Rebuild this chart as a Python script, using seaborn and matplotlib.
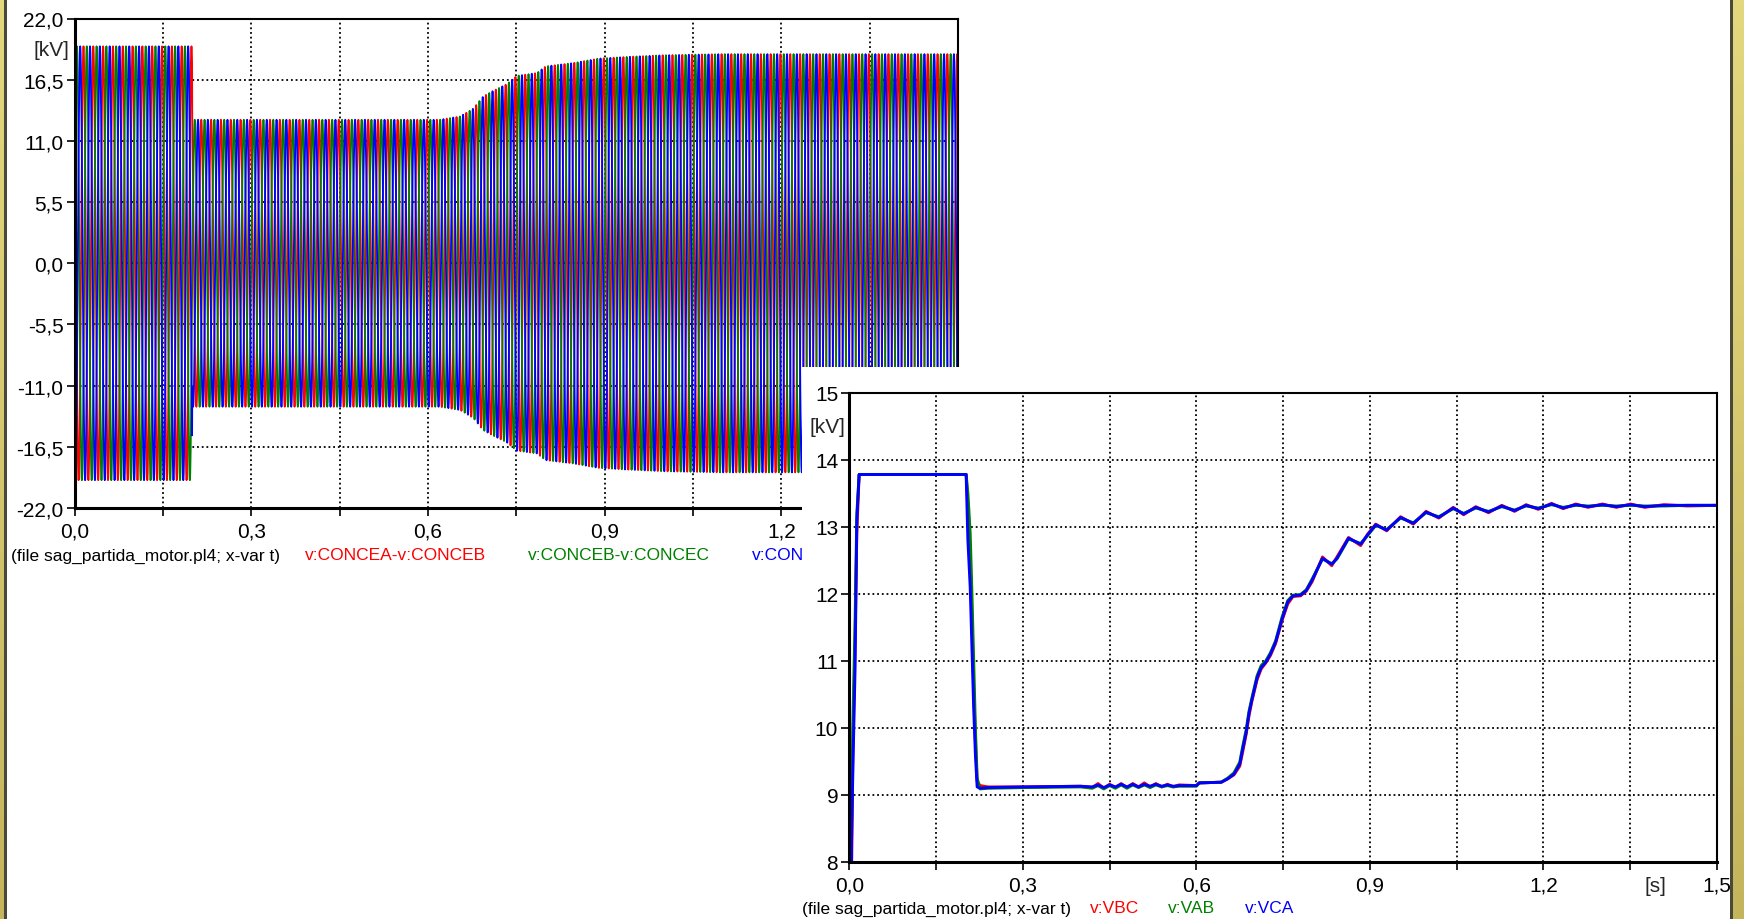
import numpy as np
import pandas as pd
import matplotlib
matplotlib.use("Agg")
import matplotlib.pyplot as plt
import seaborn as sns
from matplotlib.patches import Rectangle
from matplotlib.colors import LinearSegmentedColormap

# ---- data ---------------------------------------------------------------
# top chart: line-to-line voltages, 60 Hz carrier, peak envelope in kV
TOP_NAMES = ["v:CONCEA-v:CONCEB", "v:CONCEB-v:CONCEC", "v:CONCEC-v:CONCEA"]
TOP_PHASE_DEG = [120.0, 0.0, 240.0]
FREQ_HZ = 60.0
ENV_T = [0.0, 0.2, 0.2, 0.62, 0.655, 0.677, 0.694, 0.711, 0.734, 0.751,
         0.785, 0.80, 0.847, 0.89, 0.938, 1.0, 1.1, 1.5]
ENV_KV = [19.5, 19.5, 12.9, 12.9, 13.2, 13.9, 15.0, 15.5, 16.1, 16.85,
          17.1, 17.7, 18.0, 18.4, 18.55, 18.7, 18.8, 18.8]

# bottom chart: RMS values in kV
RMS_T = [0.000, 0.004, 0.006, 0.010, 0.013, 0.017, 0.202, 0.205, 0.209, 0.212,
         0.215, 0.218, 0.221, 0.226, 0.240, 0.300, 0.400, 0.420, 0.430, 0.440,
         0.450, 0.460, 0.470, 0.480, 0.490, 0.500, 0.510, 0.520, 0.530, 0.540,
         0.550, 0.560, 0.570, 0.600, 0.605, 0.643, 0.654, 0.665, 0.675, 0.680,
         0.686, 0.691, 0.696, 0.705, 0.712, 0.720, 0.728, 0.737, 0.748, 0.758,
         0.767, 0.780, 0.790, 0.800, 0.818, 0.834, 0.843, 0.863, 0.884, 0.896,
         0.910, 0.929, 0.953, 0.975, 0.997, 1.019, 1.044, 1.062, 1.083, 1.105,
         1.128, 1.150, 1.170, 1.191, 1.214, 1.234, 1.256, 1.277, 1.302, 1.326,
         1.351, 1.375, 1.408, 1.449, 1.500]
VCA = [0.0, 8.3, 9.3, 10.9, 13.1, 13.78, 13.78, 12.8, 12.1, 11.2,
       10.3, 9.6, 9.12, 9.10, 9.11, 9.12, 9.13, 9.12, 9.15, 9.11,
       9.15, 9.12, 9.16, 9.12, 9.16, 9.12, 9.16, 9.13, 9.16, 9.13,
       9.15, 9.13, 9.14, 9.14, 9.18, 9.19, 9.24, 9.31, 9.46, 9.68,
       9.93, 10.22, 10.42, 10.75, 10.9, 10.98, 11.1, 11.28, 11.62, 11.88,
       11.97, 11.98, 12.05, 12.2, 12.53, 12.44, 12.53, 12.83, 12.74, 12.88,
       13.03, 12.95, 13.14, 13.05, 13.22, 13.14, 13.28, 13.19, 13.29, 13.22,
       13.31, 13.24, 13.32, 13.27, 13.34, 13.28, 13.33, 13.30, 13.33, 13.30,
       13.33, 13.30, 13.32, 13.32, 13.32]
VBC = [0.0, 7.9, 9.6, 11.3, 12.9, 13.78, 13.78, 13.3, 12.6, 11.6,
       10.6, 9.8, 9.20, 9.14, 9.12, 9.12, 9.13, 9.11, 9.17, 9.10,
       9.16, 9.11, 9.17, 9.11, 9.17, 9.12, 9.18, 9.12, 9.17, 9.12,
       9.16, 9.12, 9.15, 9.14, 9.18, 9.19, 9.24, 9.30, 9.43, 9.64,
       9.90, 10.18, 10.40, 10.72, 10.88, 10.97, 11.08, 11.26, 11.60, 11.85,
       11.96, 11.97, 12.04, 12.18, 12.55, 12.42, 12.55, 12.84, 12.72, 12.89,
       13.04, 12.94, 13.15, 13.04, 13.23, 13.13, 13.29, 13.18, 13.30, 13.21,
       13.32, 13.23, 13.33, 13.26, 13.35, 13.27, 13.34, 13.29, 13.34, 13.29,
       13.34, 13.29, 13.33, 13.31, 13.32]
VAB = [0.0, 8.6, 10.0, 11.6, 13.2, 13.78, 13.78, 13.5, 12.9, 12.0,
       11.0, 10.0, 9.25, 9.09, 9.10, 9.11, 9.12, 9.10, 9.14, 9.09,
       9.14, 9.10, 9.15, 9.10, 9.15, 9.11, 9.15, 9.11, 9.15, 9.12,
       9.14, 9.12, 9.13, 9.13, 9.18, 9.19, 9.25, 9.33, 9.49, 9.72,
       9.97, 10.25, 10.45, 10.78, 10.93, 11.00, 11.12, 11.30, 11.65, 11.90,
       11.98, 11.99, 12.06, 12.22, 12.52, 12.45, 12.52, 12.82, 12.75, 12.87,
       13.02, 12.96, 13.13, 13.06, 13.21, 13.15, 13.27, 13.20, 13.28, 13.23,
       13.30, 13.25, 13.31, 13.28, 13.33, 13.29, 13.32, 13.31, 13.32, 13.31,
       13.32, 13.31, 13.31, 13.32, 13.32]
BOTTOM_NAMES = ["v:VBC", "v:VAB", "v:VCA"]

# tick values / labels
X_TICKS = [0.0, 0.15, 0.3, 0.45, 0.6, 0.75, 0.9, 1.05, 1.2, 1.35, 1.5]
X_LABELS = ["0,0", "", "0,3", "", "0,6", "", "0,9", "", "1,2", "", "1,5"]
TOP_Y_TICKS = [-22.0, -16.5, -11.0, -5.5, 0.0, 5.5, 11.0, 16.5, 22.0]
TOP_Y_LABELS = ["-22,0", "-16,5", "-11,0", "-5,5", "0,0", "5,5", "11,0", "16,5", "22,0"]
BOT_Y_TICKS = [8, 9, 10, 11, 12, 13, 14, 15]
BOT_Y_LABELS = ["8", "9", "10", "11", "12", "13", "14", "15"]
FILE_LABEL = "(file sag_partida_motor.pl4; x-var t)"

# ---- style ---------------------------------------------------------------
W, H = 1744, 920
COLORS = ["#ff0000", "#008000", "#0000ff"]
TICK_FS = 15
LEG_FS = 12.5

sns.set_style("white")
plt.rcParams["font.family"] = ["Liberation Sans", "DejaVu Sans"]


def fx(px):
    return px / W


def fy(py):
    return 1 - py / H


def style_axes(ax, yticks, ylabels):
    ax.set_xlim(0, 1.5)
    ax.set_xticks(X_TICKS)
    ax.set_xticklabels(X_LABELS)
    ax.set_yticks(yticks)
    ax.set_yticklabels(ylabels)
    ax.set_xlabel("")
    ax.set_ylabel("")
    ax.grid(True, color="black", linestyle=(0, (1, 1.6)), linewidth=1.3)
    for side in ["left", "bottom"]:
        ax.spines[side].set_linewidth(2.2)
        ax.spines[side].set_color("black")
    for side in ["top", "right"]:
        ax.spines[side].set_linewidth(1.5)
        ax.spines[side].set_color("black")
    ax.tick_params(axis="both", direction="out", length=6, width=1.2,
                   color="black", labelsize=TICK_FS, labelcolor="black",
                   left=True, bottom=True)
    ax.tick_params(axis="x", pad=4)
    ax.tick_params(axis="y", pad=2)
    if ax.get_legend():
        ax.get_legend().remove()


fig = plt.figure(figsize=(W / 100, H / 100), dpi=100, facecolor="white")

# ---- top chart: instantaneous voltages -----------------------------------
ax1 = fig.add_axes([fx(74.5), fy(509), fx(958 - 74.5), (509 - 19.5) / H])
ax1.set_zorder(0)
t = np.arange(0.0, 1.5 + 1e-9, 1.0 / (FREQ_HZ * 48))
env = np.interp(t, ENV_T, ENV_KV)
for name, ph, col in zip(TOP_NAMES, TOP_PHASE_DEG, COLORS):
    df = pd.DataFrame({"t": t, "v": env * np.sin(2 * np.pi * FREQ_HZ * t + np.deg2rad(ph))})
    sns.lineplot(data=df, x="t", y="v", ax=ax1, color=col, linewidth=1.3,
                 estimator=None, sort=False)
ax1.set_ylim(-22, 22)
style_axes(ax1, TOP_Y_TICKS, TOP_Y_LABELS)
ax1.text(fx(33), fy(50), "[kV]", transform=fig.transFigure, fontsize=TICK_FS,
         ha="left", va="center")
ax1.text(fx(11), fy(556), FILE_LABEL, transform=fig.transFigure, fontsize=LEG_FS,
         ha="left", va="center", color="black")
for name, xpos, col in zip(TOP_NAMES, [305, 528, 752], COLORS):
    ax1.text(fx(xpos), fy(556), name, transform=fig.transFigure, fontsize=LEG_FS,
             ha="left", va="center", color=col)

# white panel of the second plot window (covers the right part of the first)
fig.add_artist(Rectangle((fx(802), 0), fx(1731 - 802), (920 - 368) / H,
                         transform=fig.transFigure, facecolor="white",
                         edgecolor="none", zorder=1))

# ---- bottom chart: RMS values --------------------------------------------
ax2 = fig.add_axes([fx(849.3), fy(863), fx(1717 - 849.3), (863 - 393.7) / H])
ax2.set_zorder(2)
ax2.patch.set_facecolor("white")
for vals, col in zip([VBC, VAB, VCA], COLORS):
    df = pd.DataFrame({"t": RMS_T, "v": vals})
    sns.lineplot(data=df, x="t", y="v", ax=ax2, color=col, linewidth=2.1,
                 estimator=None, sort=False)
ax2.set_ylim(8, 15)
style_axes(ax2, BOT_Y_TICKS, BOT_Y_LABELS)
ax2.text(fx(809), fy(428), "[kV]", transform=fig.transFigure, fontsize=TICK_FS,
         ha="left", va="center")
ax2.text(fx(1655), fy(887), "[s]", transform=fig.transFigure, fontsize=TICK_FS,
         ha="center", va="center")
ax2.text(fx(802), fy(909), FILE_LABEL, transform=fig.transFigure, fontsize=LEG_FS,
         ha="left", va="center", color="black")
for name, xpos, col in zip(BOTTOM_NAMES, [1090, 1168, 1245], COLORS):
    ax2.text(fx(xpos), fy(909), name, transform=fig.transFigure, fontsize=LEG_FS,
             ha="left", va="center", color=col)

# ---- window frame strips ---------------------------------------------------
khaki = LinearSegmentedColormap.from_list("khaki", ["#e4d87f", "#c4b55d"])
grad = np.linspace(0, 1, 256).reshape(-1, 1)
for x0, w in [(0, 4), (1732.5, W - 1732.5)]:
    sax = fig.add_axes([fx(x0), 0, fx(w), 1])
    sax.set_zorder(5)
    sax.imshow(grad, aspect="auto", cmap=khaki)
    sax.axis("off")
for x0 in [4, 1730]:
    fig.add_artist(Rectangle((fx(x0), 0), fx(2.5), 1, transform=fig.transFigure,
                             facecolor="#4a4838", edgecolor="none", zorder=6))

fig.savefig("out.png", dpi=100, facecolor="white")
